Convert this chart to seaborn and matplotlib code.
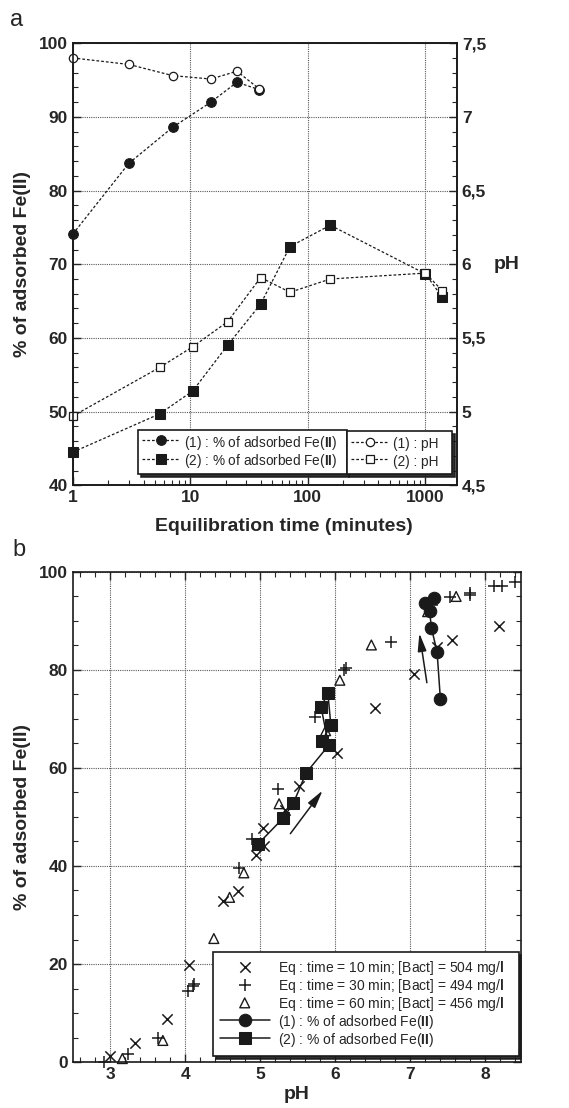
import numpy as np
import pandas as pd
import seaborn as sns
import matplotlib.pyplot as plt
from matplotlib import ticker

# ---- panel a : kinetics (time in minutes) ----
time1 = [1, 3, 7.1, 15, 25, 38.7]
pct1 = [74.1, 83.7, 88.6, 92.0, 94.7, 93.7]
ph1 = [7.40, 7.356, 7.28, 7.257, 7.31, 7.19]

time2 = [1, 5.5, 10.5, 20.8, 39.8, 70.8, 156, 1008, 1407]
pct2 = [44.5, 49.7, 52.8, 59.0, 64.6, 72.4, 75.3, 68.7, 65.5]
ph2 = [4.97, 5.30, 5.44, 5.61, 5.91, 5.81, 5.90, 5.94, 5.82]

# ---- panel b : pH edges ----
ph_10 = [2.99, 3.33, 3.76, 4.05, 4.50, 4.70, 4.94, 5.05, 5.04, 5.33, 5.52, 6.02, 6.53, 7.05, 7.35, 7.56, 8.18]
pct_10 = [1.3, 3.9, 8.8, 19.7, 32.9, 34.8, 42.2, 44.0, 47.7, 51.5, 56.3, 63.1, 72.2, 79.2, 84.6, 86.1, 89.0]

ph_30 = [2.91, 3.23, 3.63, 4.03, 4.10, 4.12, 4.71, 4.89, 5.23, 5.73, 6.12, 6.14, 6.74, 7.29, 7.53, 7.79, 7.80, 8.12, 8.22, 8.40]
pct_30 = [0.1, 1.7, 5.0, 14.4, 15.6, 16.0, 39.6, 45.5, 55.8, 70.3, 80.0, 80.3, 85.7, 93.3, 94.9, 95.7, 95.3, 97.1, 97.2, 97.9]

ph_60 = [3.16, 3.70, 4.38, 4.59, 4.78, 5.25, 5.87, 6.06, 6.48, 7.23, 7.61]
pct_60 = [0.7, 4.4, 25.2, 33.6, 38.6, 52.7, 67.6, 77.9, 85.1, 91.9, 95.0]

arrow_tail = [(5.40, 46.6), (7.22, 77.4)]
arrow_head = [(5.83, 55.4), (7.12, 87.5)]

lab_fe1 = r"(1) : % of adsorbed Fe($\mathbf{II}$)"
lab_fe2 = r"(2) : % of adsorbed Fe($\mathbf{II}$)"
lab_ph1 = "(1) : pH"
lab_ph2 = "(2) : pH"
lab_10 = r"Eq : time = 10 min; [Bact] = 504 mg/$\mathbf{l}$"
lab_30 = r"Eq : time = 30 min; [Bact] = 494 mg/$\mathbf{l}$"
lab_60 = r"Eq : time = 60 min; [Bact] = 456 mg/$\mathbf{l}$"

df1 = pd.DataFrame({"time": time1, "pct": pct1, "ph": ph1})
df2 = pd.DataFrame({"time": time2, "pct": pct2, "ph": ph2})

sns.set_theme(style="ticks")
plt.rcParams["font.family"] = ["Liberation Sans", "DejaVu Sans"]
plt.rcParams["font.weight"] = "bold"
plt.rcParams["axes.labelweight"] = "bold"
plt.rcParams["mathtext.fontset"] = "custom"
plt.rcParams["mathtext.rm"] = "Liberation Sans"
plt.rcParams["mathtext.bf"] = "Liberation Sans:bold"
plt.rcParams["axes.linewidth"] = 1.2
plt.rcParams["axes.edgecolor"] = "k"

fig = plt.figure(figsize=(5.69, 11.08), dpi=100)

dash = (0, (2.2, 1.6))
gridkw = dict(linestyle=(0, (1, 1)), color="0.35", lw=0.8)
legprop = {"weight": "normal", "size": 9.8}

# ================= panel a =================
ax = fig.add_axes([0.128, 0.562, 0.675, 0.399])
ax.set_xscale("log")
ax2 = ax.twinx()

sns.lineplot(data=df1, x="time", y="pct", ax=ax, sort=False, estimator=None, legend=False,
             color="k", lw=0.9, linestyle=dash, marker="o", markersize=7,
             markerfacecolor="k", markeredgecolor="k", clip_on=False)
sns.lineplot(data=df2, x="time", y="pct", ax=ax, sort=False, estimator=None, legend=False,
             color="k", lw=0.9, linestyle=dash, marker="s", markersize=7.5,
             markerfacecolor="k", markeredgecolor="k", clip_on=False)
sns.lineplot(data=df1, x="time", y="ph", ax=ax2, sort=False, estimator=None, legend=False,
             color="k", lw=0.9, linestyle=dash, marker="o", markersize=6,
             markerfacecolor="white", markeredgecolor="k", markeredgewidth=0.9, clip_on=False)
sns.lineplot(data=df2, x="time", y="ph", ax=ax2, sort=False, estimator=None, legend=False,
             color="k", lw=0.9, linestyle=dash, marker="s", markersize=6,
             markerfacecolor="white", markeredgecolor="k", markeredgewidth=0.9, clip_on=False)

ax.set_xlim(1, 1870)
ax.set_ylim(40, 100)
ax2.set_ylim(4.5, 7.5)
ax.xaxis.set_major_locator(ticker.LogLocator(base=10))
ax.xaxis.set_major_formatter(ticker.FuncFormatter(lambda v, p: f"{v:g}"))
ax.xaxis.set_minor_locator(ticker.LogLocator(base=10, subs=np.arange(2, 10)))
ax.xaxis.set_minor_formatter(ticker.NullFormatter())
ax.yaxis.set_major_locator(ticker.MultipleLocator(10))
ax.yaxis.set_minor_locator(ticker.MultipleLocator(2))
ax2.yaxis.set_major_locator(ticker.MultipleLocator(0.5))
ax2.yaxis.set_minor_locator(ticker.MultipleLocator(0.1))
ax2.yaxis.set_major_formatter(ticker.FuncFormatter(lambda v, p: f"{v:g}".replace(".", ",")))

ax.tick_params(which="both", direction="in", labelsize=12.5, top=False, right=False)
ax.tick_params(which="major", length=6, width=1)
ax.tick_params(which="minor", length=3.5, width=0.8)
ax2.tick_params(which="both", direction="in", labelsize=12.5)
ax2.tick_params(which="major", length=6, width=1)
ax2.tick_params(which="minor", length=3.5, width=0.8)
ax.grid(True, which="major", **gridkw)

ax.set_xlabel("Equilibration time (minutes)", fontsize=14, fontweight="bold")
ax.xaxis.set_label_coords(0.55, -0.075)
ax.set_ylabel("% of adsorbed Fe(II)", fontsize=14, fontweight="bold", labelpad=6)
ax2.set_ylabel("pH", fontsize=14, fontweight="bold", rotation=0, va="center", ha="center")
ax2.yaxis.set_label_coords(1.13, 0.5)

h = ax.lines
h2 = ax2.lines
legkw = dict(loc="lower left", mode="expand", borderaxespad=0, fancybox=False, framealpha=1,
             edgecolor="k", prop=legprop, handlelength=2.8, handletextpad=0.3,
             handleheight=1.6, labelspacing=0.0, borderpad=0.3,
             shadow={"color": "k", "alpha": 0.9})
leg1 = ax2.legend(handles=[h[0], h[1]], labels=[lab_fe1, lab_fe2],
                  bbox_to_anchor=(0.169, 0.025, 0.544, 0.1), **legkw)
leg1.get_frame().set_linewidth(1.2)
ax2.add_artist(leg1)
leg2 = ax2.legend(handles=[h2[0], h2[1]], labels=[lab_ph1, lab_ph2],
                  bbox_to_anchor=(0.713, 0.025, 0.274, 0.1), **legkw)
leg2.get_frame().set_linewidth(1.2)

fig.text(0.018, 0.982, "a", fontsize=17, fontweight="normal", va="center")

# ================= panel b =================
axb = fig.add_axes([0.128, 0.0415, 0.787, 0.4423])

sns.scatterplot(x=ph_10, y=pct_10, ax=axb, marker="x", s=55, color="k", linewidth=1.1,
                clip_on=False, label=lab_10, legend=False)
sns.scatterplot(x=ph_30, y=pct_30, ax=axb, marker="+", s=75, color="k", linewidth=1.1,
                clip_on=False, label=lab_30, legend=False)
sns.scatterplot(x=ph_60, y=pct_60, ax=axb, marker="^", s=50, facecolors="none",
                edgecolor="k", linewidth=1.0, clip_on=False, label=lab_60, legend=False)
sns.lineplot(data=df1, x="ph", y="pct", ax=axb, sort=False, estimator=None, legend=False,
             color="k", lw=1.1, marker="o", markersize=9, markerfacecolor="k",
             markeredgecolor="k", clip_on=False)
sns.lineplot(data=df2, x="ph", y="pct", ax=axb, sort=False, estimator=None, legend=False,
             color="k", lw=1.1, marker="s", markersize=9, markerfacecolor="k",
             markeredgecolor="k", clip_on=False)

for tail, head in zip(arrow_tail, arrow_head):
    axb.annotate("", xy=head, xytext=tail,
                 arrowprops=dict(arrowstyle="-|>,head_length=0.9,head_width=0.22",
                                 color="k", lw=1.1, shrinkA=0, shrinkB=0))

axb.set_xlim(2.5, 8.47)
axb.set_ylim(0, 100)
axb.xaxis.set_major_locator(ticker.MultipleLocator(1))
axb.xaxis.set_minor_locator(ticker.MultipleLocator(0.2))
axb.yaxis.set_major_locator(ticker.MultipleLocator(20))
axb.yaxis.set_minor_locator(ticker.MultipleLocator(5))
axb.tick_params(which="both", direction="in", labelsize=12.5, top=True, right=True)
axb.tick_params(which="major", length=6, width=1)
axb.tick_params(which="minor", length=3.5, width=0.8)
axb.grid(True, which="major", **gridkw)

axb.set_xlabel("pH", fontsize=14, fontweight="bold", labelpad=3)
axb.set_ylabel("% of adsorbed Fe(II)", fontsize=14, fontweight="bold", labelpad=6)

hb = axb.collections[:3] + axb.lines[:2]
legb = axb.legend(handles=hb, labels=[lab_10, lab_30, lab_60, lab_fe1, lab_fe2],
                  loc="lower left", mode="expand", bbox_to_anchor=(0.3125, 0.012, 0.683, 0.2),
                  borderaxespad=0, fancybox=False, framealpha=1, edgecolor="k",
                  prop={"weight": "normal", "size": 10},
                  handlelength=3.6, handletextpad=0.6, handleheight=1.2, labelspacing=0.0,
                  borderpad=0.5, shadow={"color": "k", "alpha": 0.9})
legb.get_frame().set_linewidth(1.2)

fig.text(0.022, 0.504, "b", fontsize=17, fontweight="normal", va="center")

fig.savefig("out.png", dpi=100)
